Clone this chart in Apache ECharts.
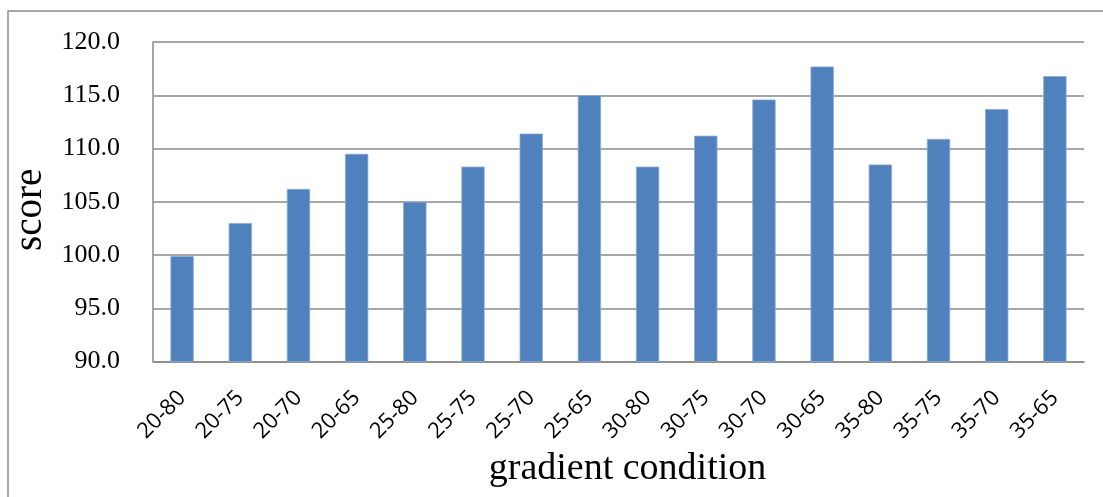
<!DOCTYPE html>
<html>
<head>
<meta charset="utf-8">
<script src="https://cdn.jsdelivr.net/npm/echarts@6/dist/echarts.min.js"></script>
<style>
html,body{margin:0;padding:0;background:#fff;}
#c{width:1103px;height:497px;}
</style>
</head>
<body>
<div id="c"></div>
<script>
const categories = ['20-80','20-75','20-70','20-65','25-80','25-75','25-70','25-65','30-80','30-75','30-70','30-65','35-80','35-75','35-70','35-65'];
const scores = [99.9,103.0,106.2,109.5,105.0,108.3,111.4,115.0,108.3,111.2,114.6,117.7,108.5,110.9,113.7,116.8];
const yTicks = {min:90, max:120, interval:5};
const xName = 'gradient condition';
const yName = 'score';

const chart = echarts.init(document.getElementById('c'), null, {renderer:'canvas'});
chart.setOption({
  animation:false,
  backgroundColor:'#fff',
  graphic:[{
    type:'rect', silent:true,
    shape:{x:8, y:11, width:1300, height:700},
    style:{fill:'none', stroke:'#8a8a8a', lineWidth:1.5}
  }],
  grid:{left:153, right:19, top:42, bottom:135.5, containLabel:false},
  xAxis:{
    type:'category',
    data:categories,
    name:xName,
    nameLocation:'middle',
    nameGap:83,
    nameTextStyle:{fontFamily:'Liberation Serif', fontSize:38, color:'#000', padding:[0,0,0,18]},
    axisLine:{show:true, lineStyle:{color:'#8a8a8a', width:1.5}},
    axisTick:{show:false},
    axisLabel:{rotate:45, margin:33, interval:0, fontFamily:'Open Sans', fontSize:22, color:'#000'}
  },
  yAxis:{
    type:'value',
    min:yTicks.min, max:yTicks.max, interval:yTicks.interval,
    name:yName,
    nameLocation:'middle',
    nameGap:101,
    nameRotate:90,
    nameTextStyle:{fontFamily:'Liberation Serif', fontSize:39, color:'#000', padding:[0,16,0,0]},
    axisLine:{show:true, lineStyle:{color:'#8a8a8a', width:1.5}},
    axisTick:{show:false},
    splitLine:{show:true, lineStyle:{color:'#8a8a8a', width:1.5}},
    axisLabel:{margin:33, fontFamily:'Liberation Serif', fontSize:26, color:'#000', formatter:v=>v.toFixed(1)}
  },
  series:[{
    type:'bar',
    data:scores,
    barWidth:'40%',
    itemStyle:{color:'#4F81BD', borderColor:'#8aa8d4', borderWidth:0.8}
  }]
});
</script>
</body>
</html>
